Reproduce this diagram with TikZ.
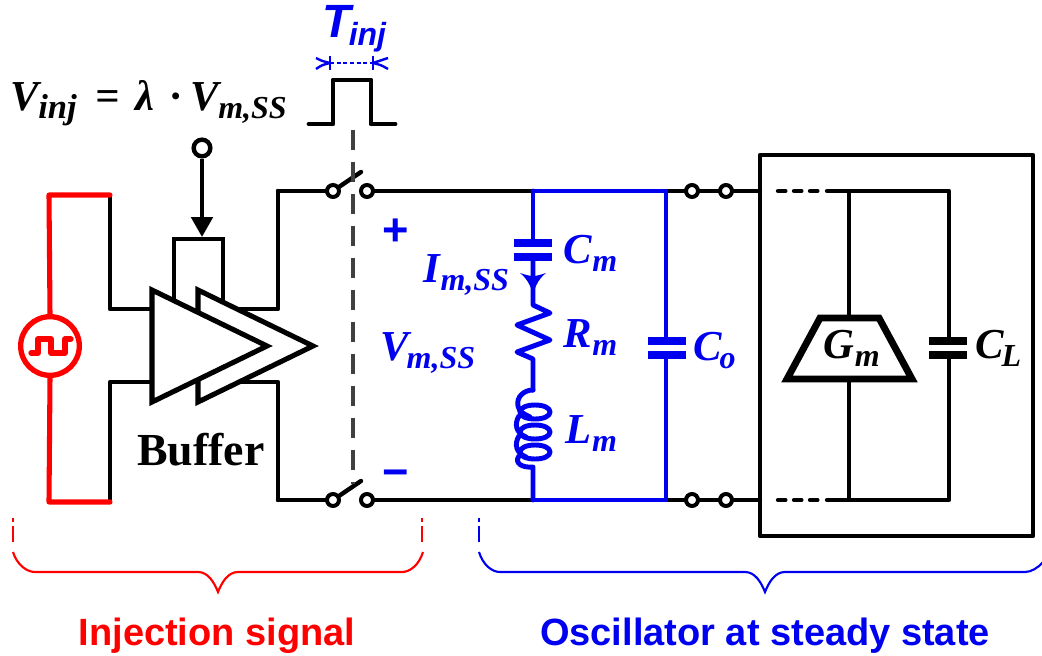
\documentclass[tikz,border=0pt]{standalone}
\usepackage{fontspec}
\usetikzlibrary{arrows.meta}
\setmainfont{Liberation Serif}
\setsansfont{Liberation Sans}
\definecolor{oscblue}{RGB}{0,0,240}
\definecolor{injred}{RGB}{255,0,0}
\definecolor{dashgray}{RGB}{64,64,64}
\newcommand{\symsub}[3][0.5pt]{{\fontsize{32}{32}\selectfont\bfseries\itshape #2\kern#1\raisebox{-6pt}{\fontsize{24}{24}\selectfont #3}}}
\newcommand{\placeat}[2]{\rlap{\kern#1pt #2}}
\tikzset{
  wire/.style={line width=3.3pt,line join=round,line cap=round,draw=black},
  bluew/.style={line width=3.7pt,line join=round,line cap=round,draw=oscblue},
  redw/.style={line width=3.8pt,line join=round,line cap=round,draw=injred},
  plate/.style={line width=6pt,line cap=butt},
  term/.style={circle,draw=black,fill=white,line width=3pt,minimum size=9pt,inner sep=0pt},
  amp/.style={draw=black,fill=white,line width=3.8pt,line join=miter},
  lab/.style={inner sep=0pt,anchor=base west},
  brace/.style={line width=1.6pt},
}
\begin{document}
\begin{tikzpicture}[x=0.75pt,y=-0.75pt]
\useasboundingbox (0,0) rectangle (1042,656);
% coordinates
\coordinate (tl) at (278,191); \coordinate (bl) at (278,500);
\coordinate (ampo1) at (278,309); \coordinate (ampo2) at (278,382);
\coordinate (ampi1) at (110,309); \coordinate (ampi2) at (110,382);
\coordinate (rt) at (110,195); \coordinate (rb) at (110,502);
\coordinate (rtl) at (49,195); \coordinate (rbl) at (49,502);
% wires into and out of buffer
\draw[wire] (rt) -- (ampi1) -- (152,309);
\draw[wire] (rb) -- (ampi2) -- (152,382);
\draw[wire] (tl) -- (ampo1) -- (236,309);
\draw[wire] (bl) -- (ampo2) -- (236,382);
% red source
\node[circle,draw=injred,line width=4pt,minimum size=44pt,inner sep=0pt,fill=white] (src) at (50,346) {};
\draw[redw] (src.north) -- (rtl) -- (rt);
\draw[redw] (src.south) -- (rbl) -- (rb);
\draw[redw,line width=4pt,line cap=round,line join=round] (31,353) -- (38,353) -- (38,339) -- (51,339) -- (51,353) -- (65,353) -- (65,339) -- (71,339);
% control
\coordinate (ctlL) at (174,239); \coordinate (ctlR) at (223,239);
\draw[wire,line cap=butt,line join=miter] (174,310) -- (ctlL) -- (ctlR) -- (223,310);
\node[term,minimum size=12.5pt,line width=3.3pt] (vin) at (202,148) {};
\coordinate (ctlM) at (202,237);
\draw[wire,line cap=butt,-{Triangle[length=15pt,width=16pt]}] (vin) -- (ctlM);
% amplifiers
\draw[amp] (198,290) -- (313,346) -- (198,402) -- cycle;
\draw[amp] (152,290) -- (267,346) -- (152,402) -- cycle;
% main rails
\coordinate (bt) at (533,191); \coordinate (bb) at (533,500);
\coordinate (ct) at (666,191); \coordinate (cb) at (666,500);
\coordinate (boxl1) at (760,191); \coordinate (boxl2) at (760,500);
\coordinate (s1ac) at (333,191); \coordinate (s2ac) at (333,500);
\coordinate (lev1) at (361,172); \coordinate (lev2) at (361,481);
\draw[wire] (tl) -- (s1ac); \draw[wire] (bl) -- (s2ac);
\draw[wire] (s1ac) -- (lev1); \draw[wire] (s2ac) -- (lev2);
\draw[wire] (367,191) -- (bt); \draw[wire] (367,500) -- (bb);
\draw[wire] (ct) -- (boxl1); \draw[wire] (cb) -- (boxl2);
\node[term] (s1a) at (s1ac) {};
\node[term] (s1b) at (367,191) {};
\node[term] (s2a) at (s2ac) {};
\node[term] (s2b) at (367,500) {};
\node[term] (t1a) at (692,191) {};
\node[term] (t1b) at (726,191) {};
\node[term] (t2a) at (692,500) {};
\node[term] (t2b) at (726,500) {};
% dashed control line
\coordinate (dashA) at (353,130); \coordinate (dashB) at (353,484);
\draw[draw=dashgray,line width=3.4pt,line cap=butt,dash pattern=on 15pt off 9pt] (dashA) -- (dashB);
% pulse
\draw[wire,line width=3.7pt] (309,124) -- (333,124) -- (333,80) -- (371,80) -- (371,124) -- (395,124);
% T_inj marks
\coordinate (ta) at (330,63); \coordinate (tb) at (373,63);
\draw[oscblue,line width=1.8pt] (330,56) -- (330,70);
\draw[oscblue,line width=1.8pt] (373,56) -- (373,70);
\draw[oscblue,line width=1.8pt,dash pattern=on 3pt off 2pt] (ta) -- (tb);
\draw[oscblue,line width=1.8pt,line join=round] (316,58) .. controls (322,61) .. (330,63) .. controls (322,65) .. (316,69);
\draw[oscblue,line width=1.8pt,line join=round] (388,58) .. controls (381,61) .. (373,63) .. controls (381,65) .. (388,69);
% blue RLC
\draw[bluew] (bt) -- (ct) -- (cb) -- (bb);
\draw[bluew] (bt) -- (533,243);
\draw[oscblue,plate] (514,243) -- (552,243);
\draw[oscblue,plate] (514,257) -- (552,257);
\draw[bluew] (533,257) -- (533,305) -- (550,313) -- (517,325) -- (550,340) -- (517,352) -- (533,359) -- (533,390);
\fill[oscblue] (533,296) .. controls (531,284) and (525,277) .. (520,273) .. controls (526,275) and (530,276) .. (533,276) .. controls (536,276) and (540,275) .. (546,273) .. controls (541,277) and (535,284) .. (533,296) -- cycle;
\draw[bluew] (533,390) .. controls (524,390) and (516,397) .. (518,406) .. controls (519,412) and (524,414) .. (530,417);
\draw[bluew] (535,405) .. controls (544,405) and (550,408) .. (550,412) .. controls (550,416) and (544,419) .. (535,419) .. controls (526,419) and (520,416) .. (520,412) .. controls (520,408) and (526,405) .. (535,405);
\draw[bluew] (519,416) .. controls (514,424) and (516,433) .. (526,437);
\draw[bluew] (535,425) .. controls (544,425) and (550,428) .. (550,432) .. controls (550,436) and (544,439) .. (535,439) .. controls (526,439) and (520,436) .. (520,432) .. controls (520,428) and (526,425) .. (535,425);
\draw[bluew] (519,436) .. controls (514,444) and (516,453) .. (526,457);
\draw[bluew] (535,445) .. controls (544,445) and (550,448) .. (550,452) .. controls (550,456) and (544,459) .. (535,459) .. controls (526,459) and (520,456) .. (520,452) .. controls (520,448) and (526,445) .. (535,445);
\draw[bluew] (519,456) .. controls (514,463) and (522,468) .. (533,467) -- (533,500);
% Co
\fill[white] (640,342) rectangle (690,354);
\draw[oscblue,plate] (648,341) -- (686,341);
\draw[oscblue,plate] (648,355) -- (686,355);
% right box
\node[draw=black,line width=3.3pt,minimum width=204.75pt,minimum height=285.75pt,inner sep=0pt,line join=round] (osc) at (896.5,345.5) {};
\draw[wire,dash pattern=on 5.5pt off 6.5pt] (778,191) -- (824,191);
\draw[wire,dash pattern=on 5.5pt off 6.5pt] (778,500) -- (824,500);
\coordinate (it) at (827,191); \coordinate (ib) at (827,500);
\coordinate (it2) at (949,191); \coordinate (ib2) at (949,500);
\coordinate (gt) at (849,191); \coordinate (gb) at (849,500);
\draw[wire] (it) -- (it2) -- (949,341);
\draw[wire] (ib) -- (ib2) -- (949,355);
\draw[wire,line cap=butt] (gt) -- (849,316);
\draw[wire,line cap=butt] (gb) -- (849,381);
\draw[black,plate] (929,341) -- (967,341);
\draw[black,plate] (929,355) -- (967,355);
\draw[draw=black,line width=5.2pt,line join=miter,fill=white] (820,318) -- (879,318) -- (912,379) -- (787,379) -- cycle;
% braces
\draw[injred,brace,dash pattern=on 3pt off 3pt on 12pt off 40pt] (13,518) -- (13,545);
\draw[injred,brace,dash pattern=on 3pt off 3pt on 12pt off 40pt] (422,518) -- (422,545);
\draw[injred,brace] (13,552) .. controls (17,565) and (27,572) .. (35,572) -- (198,572) .. controls (208,572) and (214,582) .. (218,592) .. controls (222,582) and (228,572) .. (238,572) -- (402,572) .. controls (410,572) and (419,565) .. (423,552);
\draw[oscblue,brace,dash pattern=on 3pt off 3pt on 12pt off 40pt] (479,518) -- (479,545);
\draw[oscblue,brace] (479,552) .. controls (483,565) and (492,572) .. (500,572) -- (745,572) .. controls (755,572) and (761,582) .. (765,592) .. controls (769,582) and (775,572) .. (785,572) -- (1025,572) .. controls (1031,572) and (1038,568) .. (1043,562);
% text
\node[lab,font=\sffamily\bfseries\itshape\fontsize{35}{35}\selectfont,text=oscblue] (tinj) at (322,38) {T\kern-1.5pt\raisebox{-6pt}{\fontsize{24}{24}\selectfont inj}};
\node[lab,text=black,font=\bfseries\itshape\fontsize{32}{32}\selectfont] (veq) at (10,111) {\placeat{0}{V}\placeat{21}{\raisebox{-6pt}{\fontsize{26}{26}\selectfont inj}}\placeat{64}{=}\placeat{94}{λ}\placeat{120}{·}\placeat{135}{V}\placeat{156}{\raisebox{-6pt}{\fontsize{24}{24}\selectfont m,SS}}\phantom{x}};
\node[lab,text=oscblue] (im) at (423,282) {\symsub{I}{m,SS}};
\node[lab,text=oscblue] (vm) at (380,360) {\symsub[-1.5pt]{V}{m,SS}};
\node[lab,text=oscblue] (cm) at (563,263) {\symsub{C}{m}};
\node[lab,text=oscblue] (rm) at (563,347) {\symsub{R}{m}};
\node[lab,text=oscblue] (lm) at (565,443) {\symsub{L}{m}};
\node[lab,text=oscblue] (co) at (693,360) {\symsub[-1.5pt]{C}{o}};
\node[lab,text=black] (gm) at (823,358) {\symsub{G}{m}};
\node[lab,text=black] (cl) at (975,358) {\symsub[-1.5pt]{C}{L}};
\node[inner sep=0pt,font=\sffamily\bfseries\fontsize{34}{34}\selectfont,text=oscblue] (plus) at (396,232) {+};
\node[inner sep=0pt,font=\sffamily\bfseries\fontsize{34}{34}\selectfont,text=oscblue] (minus) at (396,479) {−};
\node[inner sep=0pt,font=\rmfamily\bfseries\fontsize{34.4}{34.4}\selectfont] (buf) at (201,450) {Buffer};
\node[inner sep=0pt,font=\sffamily\bfseries\fontsize{28.5}{28.5}\selectfont,text=injred] (lab1) at (217,636) {Injection signal};
\node[inner sep=0pt,font=\sffamily\bfseries\fontsize{28.5}{28.5}\selectfont,text=oscblue] (lab2) at (765,636) {Oscillator at steady state};
\end{tikzpicture}
\end{document}
